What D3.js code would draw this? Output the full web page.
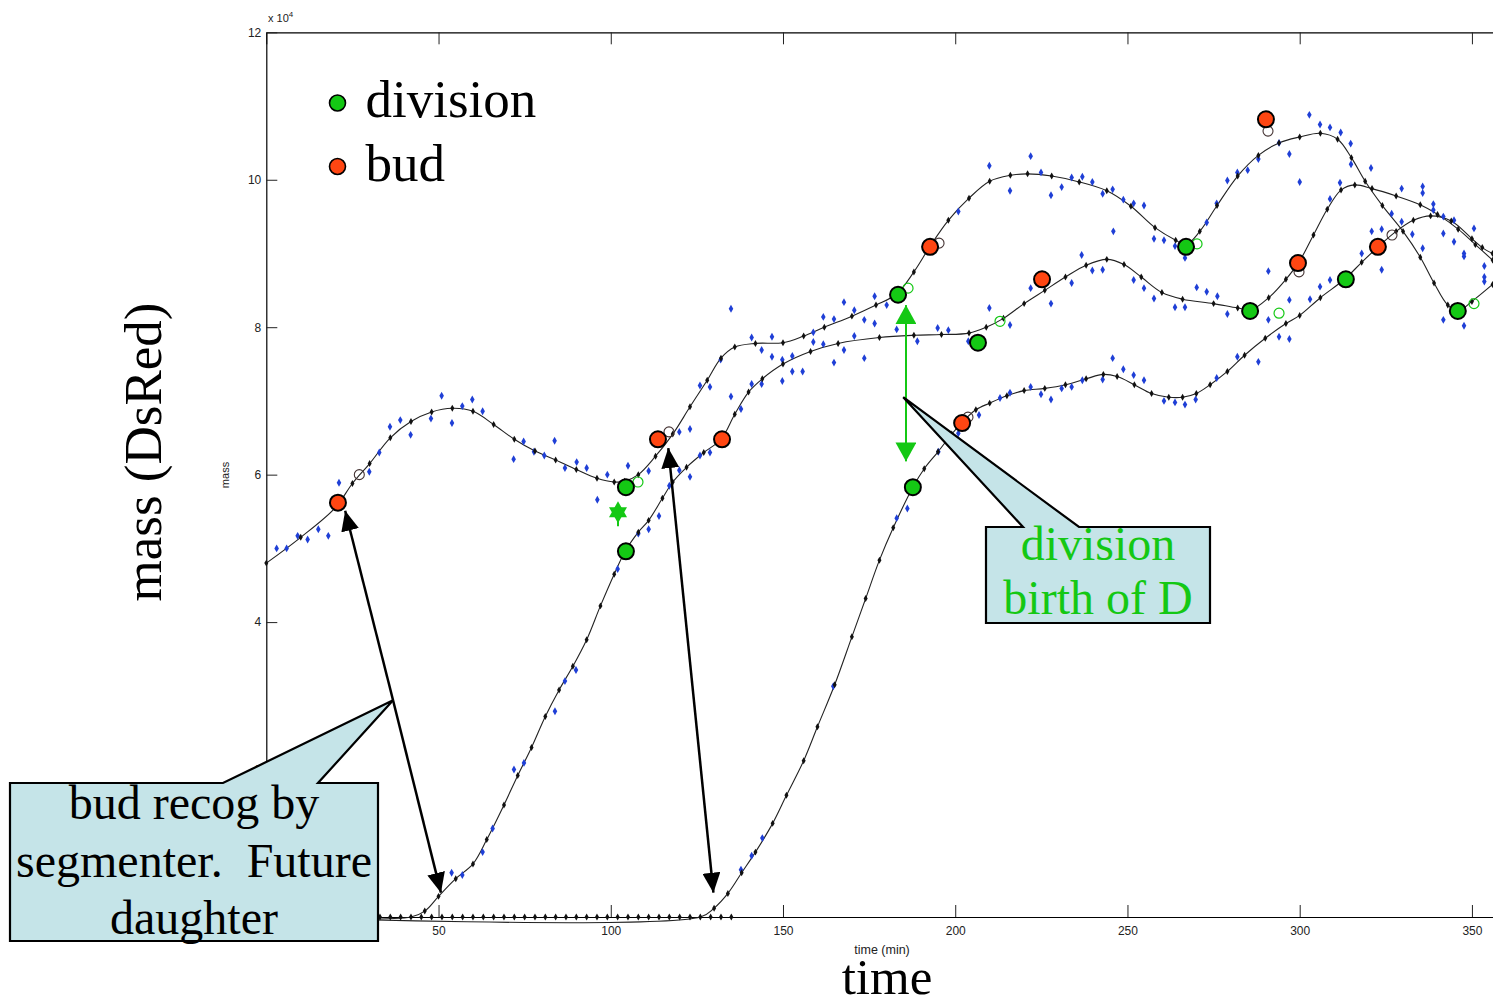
<!DOCTYPE html>
<html>
<head>
<meta charset="utf-8">
<script src="https://cdn.jsdelivr.net/npm/d3@7"></script>
<style>
    body { margin: 0; background: #fff; }
    svg { display: block; }
    .serif { font-family: "Liberation Serif", "Times New Roman", serif; }
    .sans { font-family: "Liberation Sans", Arial, sans-serif; }
</style>
</head>
<body>
<div id="chart"></div>
<script>
// ---- data (time in min, mass in units of 1e4) ----
const xTicks = [0, 50, 100, 150, 200, 250, 300, 350];
const yTicks = [0, 2, 4, 6, 8, 10, 12];

// smoothed curves, one per cell
const cellA = [[0,4.80],[10,5.15],[20,5.55],[25,5.88],[30,6.15],[36,6.50],[42,6.72],[48,6.85],[54,6.90],[60,6.86],
    [66,6.68],[72,6.48],[78,6.32],[84,6.20],[90,6.07],[96,5.95],[101,5.90],[104,5.91],[108,6.00],[113,6.25],[118,6.55],
    [123,6.92],[128,7.28],[132,7.58],[136,7.73],[142,7.78],[150,7.79],[156,7.88],[162,8.00],[170,8.15],[177,8.30],
    [183,8.45],[188,8.75],[193,9.12],[198,9.45],[204,9.75],[210,9.98],[216,10.06],[221,10.08],[228,10.05],[236,9.97],
    [244,9.85],[251,9.64],[258,9.35],[264,9.18],[267,9.12],[271,9.30],[276,9.65],[282,10.05],[288,10.33],[294,10.50],
    [300,10.58],[306,10.63],[311,10.55],[315,10.30],[319,9.98],[324,9.65],[330,9.30],[335,8.95],[339,8.60],[343,8.30],
    [346,8.22],[350,8.35],[356,8.58]];
const cellB = [[0,0],[42,0],[46,0.08],[50,0.28],[55,0.52],[60,0.72],[64,1.05],[69,1.52],[73,1.92],[77,2.30],[81,2.72],
    [85,3.08],[89,3.40],[93,3.76],[97,4.22],[101,4.65],[104.3,4.97],[108,5.22],[111,5.38],[115,5.68],[118,5.90],
    [122,6.10],[127,6.30],[132,6.48],[136,6.82],[140,7.12],[144,7.30],[150,7.50],[158,7.67],[166,7.78],[178,7.86],
    [188,7.89],[196,7.90],[204,7.92],[209,8.00],[214,8.12],[220,8.32],[226,8.50],[232,8.68],[238,8.84],[244,8.92],
    [249,8.85],[254,8.68],[260,8.47],[266,8.38],[275,8.32],[282,8.26],[286,8.24],[291,8.40],[296,8.65],[300,8.90],
    [304,9.25],[308,9.60],[312,9.86],[316,9.93],[321,9.88],[328,9.78],[335,9.66],[340,9.53],[346,9.33],[351,9.12],[356,8.91]];
const cellC = [[0,0],[126,0],[130,0.12],[134,0.32],[138,0.60],[142,0.88],[147,1.27],[151,1.65],[156,2.12],[160,2.58],
    [165,3.15],[170,3.80],[174,4.32],[178,4.84],[182,5.28],[187.7,5.83],[191,6.08],[195,6.31],[199,6.55],[202,6.71],
    [206,6.88],[210,6.97],[215,7.07],[220,7.14],[226,7.17],[232,7.22],[238,7.30],[243,7.36],[247,7.33],[252,7.22],
    [257,7.10],[262,7.05],[266,7.05],[270,7.10],[274,7.22],[279,7.40],[284,7.62],[290,7.85],[296,8.05],[300,8.16],
    [306,8.40],[313,8.65],[318,8.88],[323,9.10],[328,9.30],[333,9.45],[338,9.51],[344,9.44],[350,9.20],[353,9.08],[356,9.00]];

// raw measurements (blue)
const rawA = [[3,5.00],[5.9,5.00],[9.1,5.17],[12,5.12],[15.1,5.26],[18,5.17],[21.1,5.89],[29.9,6.04],[32.8,6.30],
    [35.9,6.65],[38.9,6.74],[41.9,6.54],[47.8,6.76],[50.9,7.07],[53.9,6.70],[56.9,6.93],[59.8,7.02],[62.8,6.86],
    [71.8,6.21],[74.7,6.45],[77.7,6.31],[80.7,6.26],[83.7,6.46],[86.7,6.09],[90.1,6.17],[93,6.09],[96.1,5.66],[99,6.00],
    [105,6.12],[111,6.05],[119.9,6.58],[123,6.62],[125.9,7.21],[128.8,7.19],[131.9,7.56],[134.9,8.25],[140.9,7.86],
    [143.8,7.69],[146.8,7.87],[146.8,7.60],[149.8,7.56],[152.7,7.61],[158.8,7.93],[161.7,8.14],[164.8,8.11],
    [167.7,8.34],[170.7,8.23],[173.6,8.10],[176.6,8.42],[180.1,8.30],[200.9,9.57],[209.9,10.19],[215.9,9.85],
    [221.9,10.32],[224.9,10.10],[227.8,9.79],[230.9,9.90],[233.8,10.03],[236.9,10.04],[239.8,9.97],[242.8,9.81],
    [245.7,9.87],[248.8,9.73],[251.8,9.68],[254.8,9.65],[245.9,9.30],[257.7,9.20],[260.6,9.18],[263.8,9.10],
    [266.7,8.94],[273,9.42],[275.9,9.68],[279,9.99],[281.9,10.10],[284.9,10.13],[288,10.28],[294,10.50],[297,10.35],
    [300,9.97],[302.8,10.88],[305.9,10.75],[308.8,10.71],[311.9,10.64],[314.8,10.49],[314.9,10.21],[320.7,10.16],
    [308.8,9.74],[311.7,9.96]];
const rawB = [[53.8,0.60],[56.9,0.57],[62.8,0.88],[65.7,1.20],[71.9,2.00],[74.8,2.09],[83.8,2.79],[86.7,3.20],
    [89.9,3.35],[102,4.72],[108,5.20],[111,5.26],[114,5.44],[117,5.85],[119.9,6.06],[123,5.97],[125.9,6.26],
    [128.8,6.30],[134.9,7.06],[137.8,6.89],[140.9,7.23],[143.8,7.23],[149.8,7.27],[152.7,7.40],[155.7,7.40],
    [158.8,7.80],[161.7,7.77],[164.8,7.52],[167.7,7.69],[170.7,7.88],[173.6,7.58],[176.6,8.05],[183,7.97],[189,7.81],
    [194.9,7.99],[198,7.96],[203.8,7.81],[209.9,8.26],[215.9,8.03],[221.9,8.53],[227.8,8.32],[233.8,8.60],
    [236.7,8.98],[239.8,8.77],[242.8,8.78],[251.8,8.64],[254.8,8.53],[257.7,8.39],[263.8,8.27],[266.7,8.27],
    [270.1,8.54],[273,8.48],[276.1,8.42],[279,8.18],[290.9,8.76],[290.9,8.10],[297,8.37],[303,8.38],[305.9,8.55],
    [308.8,8.64],[318,9.00],[320.9,9.30],[323.8,9.33],[323.8,8.78],[326.7,9.54],[329.6,9.88],[332.7,9.26],
    [335.7,9.91],[335.7,9.82],[338.8,9.67],[338.8,9.59],[341.7,9.50],[344.8,9.45],[350.6,9.34]];
const rawC = [[137.8,0.64],[140.9,0.83],[144,1.07],[164.6,3.13],[183,5.41],[186.1,5.54],[195.1,6.31],[200.9,6.56],
    [206.9,6.81],[213,7.04],[215.9,7.11],[221.9,7.19],[224.9,7.09],[227.8,7.02],[230.9,7.17],[233.8,7.19],
    [236.9,7.28],[242.8,7.29],[245.7,7.58],[248.8,7.43],[251.8,7.35],[254.8,7.28],[260.6,7.00],[263.8,6.98],
    [266.7,6.95],[269.8,7.02],[275.9,7.31],[281.9,7.60],[288,7.53],[294,7.87],[297,7.84],[329.6,9.43],[335.7,9.07],
    [341.7,9.27],[341.7,8.10],[344.8,9.16],[347.7,9.00],[347.7,8.96],[347.7,8.02],[353.6,8.83],[353.6,8.68],[353.6,8.62]];

// both daughters sit at zero before they are recognised
const baselineTimes = [30,33,36,39,42,45,48,51,54,57,60,63,66,69,72,75,78,81,84,87,90,93,96,99,102,105,108,111,
    114,117,120,123,126,129,132,135];

// events
const divisions = [[104.4,5.83],[104.4,4.96],[183.4,8.44],[187.7,5.83],[206.6,7.79],[267,9.09],[285.6,8.22],
    [313.4,8.65],[345.9,8.22]];
const buds = [[20.8,5.62],[113.7,6.48],[132.3,6.48],[192.7,9.09],[202,6.70],[225.2,8.65],[290.2,10.82],
    [299.5,8.87],[322.7,9.09]];
const budsOpen = [[27,6.00],[116.9,6.58],[195.3,9.14],[203.7,6.78],[290.8,10.66],[299.8,8.75],[326.8,9.25]];
const divisionsOpen = [[107.9,5.90],[186.3,8.53],[213,8.08],[270.2,9.13],[294,8.19],[350.6,8.32]];
const starPoint = [102.1, 5.49];

// annotation anchors
const budCalloutTip = [36.8, 2.94];
const birthCalloutTip = [184.9, 7.05];
const budArrowTips = [[22.9, 5.51], [50.7, 0.33]];
const secondBudArrow = [[129.8, 0.33], [116.7, 6.36]];
const divisionArrow = [[185.7, 6.18], [185.7, 8.30]];

// ---- chart ----
const W = 1493, H = 1004;
const GREEN = '#14c814', RED = '#ff4612', BLUE = '#1f3fd6', BOX = '#c5e4e8';

const svg = d3.select('#chart').append('svg')
    .attr('width', W)
    .attr('height', H);

const x = d3.scaleLinear().domain([0, 356]).range([266.3, 1492.6]);
const y = d3.scaleLinear().domain([0, 12]).range([917, 32.3]);

// arrow heads
const defs = svg.append('defs');
function head(id, color, len, wid) {
    defs.append('marker')
        .attr('id', id)
        .attr('markerUnits', 'userSpaceOnUse')
        .attr('viewBox', `0 0 ${len} ${wid}`)
        .attr('markerWidth', len)
        .attr('markerHeight', wid)
        .attr('refX', len)
        .attr('refY', wid / 2)
        .attr('orient', 'auto-start-reverse')
        .append('path')
        .attr('d', `M0,0L${len},${wid / 2}L0,${wid}Z`)
        .attr('fill', color);
}
head('headBlack', '#000', 20, 18);
head('headGreen', GREEN, 19, 21);

// axes (the 0 labels sit under the callout box, so leave them blank)
const noZero = d => d === 0 ? '' : d;
const xAxisG = svg.append('g')
    .attr('transform', `translate(0,${y(0)})`)
    .call(d3.axisBottom(x).tickValues(xTicks).tickSize(-12).tickSizeOuter(0).tickPadding(9).tickFormat(noZero));
const topAxisG = svg.append('g')
    .attr('transform', `translate(0,${y(12)})`)
    .call(d3.axisTop(x).tickValues(xTicks).tickSize(-12).tickSizeOuter(0).tickFormat(''));
const yAxisG = svg.append('g')
    .attr('transform', `translate(${x(0)},0)`)
    .call(d3.axisLeft(y).tickValues(yTicks).tickSize(-11).tickSizeOuter(0).tickPadding(5).tickFormat(noZero));

[xAxisG, topAxisG, yAxisG].forEach(g => {
    g.select('.domain').attr('stroke', '#000').attr('stroke-width', 1.2);
    g.selectAll('.tick line').attr('stroke', '#222');
    g.selectAll('.tick text')
        .attr('class', 'sans')
        .attr('font-size', 12)
        .attr('fill', '#222');
});

svg.append('text')
    .attr('class', 'sans')
    .attr('x', 268).attr('y', 22)
    .attr('font-size', 11).attr('fill', '#222')
    .text('x 10')
    .append('tspan').attr('dy', -5).attr('font-size', 8).text('4');

svg.append('text')
    .attr('class', 'sans')
    .attr('x', 882).attr('y', 954)
    .attr('text-anchor', 'middle')
    .attr('font-size', 12.5).attr('fill', '#222')
    .text('time (min)');

svg.append('text')
    .attr('class', 'sans')
    .attr('transform', 'translate(229,475) rotate(-90)')
    .attr('text-anchor', 'middle')
    .attr('font-size', 11).attr('fill', '#222')
    .text('mass');

// big slide labels
svg.append('text')
    .attr('class', 'serif')
    .attr('transform', 'translate(161,452) rotate(-90)')
    .attr('text-anchor', 'middle')
    .attr('font-size', 53)
    .text('mass (DsRed)');

svg.append('text')
    .attr('class', 'serif')
    .attr('x', 887).attr('y', 994)
    .attr('text-anchor', 'middle')
    .attr('font-size', 51)
    .text('time');

// smoothed lines
const line = d3.line()
    .x(d => x(d[0]))
    .y(d => y(d[1]))
    .curve(d3.curveCatmullRom.alpha(0.5));

const cells = [cellA, cellB, cellC];
svg.append('g').selectAll('path')
    .data(cells)
    .join('path')
    .attr('d', line)
    .attr('fill', 'none')
    .attr('stroke', '#222')
    .attr('stroke-width', 1.1);

// raw points
const diamond = d3.symbol().type(d3.symbolDiamond);
svg.append('g').selectAll('path')
    .data(rawA.concat(rawB, rawC))
    .join('path')
    .attr('transform', d => `translate(${x(d[0])},${y(d[1])})`)
    .attr('d', diamond.size(18)())
    .attr('fill', BLUE);

// smoothed samples
const samples = cells.flatMap(c => c.filter(d => d[1] > 0))
    .concat(baselineTimes.map(t => [t, 0]));
svg.append('g').selectAll('path')
    .data(samples)
    .join('path')
    .attr('transform', d => `translate(${x(d[0])},${y(d[1])})`)
    .attr('d', diamond.size(14)())
    .attr('fill', '#111');

// open circles
svg.append('g').selectAll('circle')
    .data(budsOpen)
    .join('circle')
    .attr('cx', d => x(d[0])).attr('cy', d => y(d[1]))
    .attr('r', 5)
    .attr('fill', 'none')
    .attr('stroke', '#443333')
    .attr('stroke-width', 1.1);
svg.append('g').selectAll('circle')
    .data(divisionsOpen)
    .join('circle')
    .attr('cx', d => x(d[0])).attr('cy', d => y(d[1]))
    .attr('r', 5)
    .attr('fill', 'none')
    .attr('stroke', GREEN)
    .attr('stroke-width', 1.2);

// event markers
function events(data, color) {
    svg.append('g').selectAll('circle')
        .data(data)
        .join('circle')
        .attr('cx', d => x(d[0])).attr('cy', d => y(d[1]))
        .attr('r', 8)
        .attr('fill', color)
        .attr('stroke', '#000')
        .attr('stroke-width', 2);
}
events(divisions, GREEN);
events(buds, RED);

// green six-point star with a short stem
const sx = x(starPoint[0]), sy = y(starPoint[1]);
const star = svg.append('g').attr('fill', GREEN);
star.append('path').attr('d', `M${sx},${sy - 11}L${sx + 9},${sy + 5}L${sx - 9},${sy + 5}Z`);
star.append('path').attr('d', `M${sx},${sy + 11}L${sx + 9},${sy - 5}L${sx - 9},${sy - 5}Z`);
star.append('rect').attr('x', sx - 1).attr('y', sy).attr('width', 2).attr('height', 14);

// arrows
function arrow(a, b, color, w, id, both) {
    svg.append('line')
        .attr('x1', x(a[0])).attr('y1', y(a[1]))
        .attr('x2', x(b[0])).attr('y2', y(b[1]))
        .attr('stroke', color)
        .attr('stroke-width', w)
        .attr('marker-end', `url(#${id})`)
        .attr('marker-start', both ? `url(#${id})` : null);
}
budArrowTips.forEach(t => arrow(budCalloutTip, t, '#000', 2.5, 'headBlack', false));
arrow(secondBudArrow[0], secondBudArrow[1], '#000', 2.5, 'headBlack', true);
arrow(divisionArrow[0], divisionArrow[1], GREEN, 2, 'headGreen', true);

// callouts
function callout(box, baseL, baseR, tip) {
    const [x0, y0, x1, y1] = box;
    const tx = x(tip[0]), ty = y(tip[1]);
    svg.append('path')
        .attr('d', `M${x0},${y0}L${baseL},${y0}L${tx},${ty}L${baseR},${y0}L${x1},${y0}L${x1},${y1}L${x0},${y1}Z`)
        .attr('fill', BOX)
        .attr('stroke', '#000')
        .attr('stroke-width', 2.2)
        .attr('stroke-linejoin', 'miter');
}
callout([10, 783, 378, 941], 223, 318, budCalloutTip);
callout([986, 527, 1210, 623], 1023, 1079, birthCalloutTip);

function lines(textLines, cx, baselines, color) {
    svg.append('g').selectAll('text')
        .data(textLines)
        .join('text')
        .attr('class', 'serif')
        .attr('x', cx)
        .attr('y', (d, i) => baselines[i])
        .attr('text-anchor', 'middle')
        .attr('font-size', 48)
        .attr('fill', color)
        .style('white-space', 'pre')
        .text(d => d);
}
lines(['bud recog by', 'segmenter.  Future', 'daughter'], 194, [819, 877, 934], '#000');
lines(['division', 'birth of D'], 1098, [560, 614], GREEN);

// legend
const legend = svg.append('g').attr('transform', 'translate(337.5,103)');
const legendItems = [['division', GREEN], ['bud', RED]];
legendItems.forEach((d, i) => {
    const g = legend.append('g').attr('transform', `translate(0,${i * 63.5})`);
    g.append('circle')
        .attr('r', 8)
        .attr('fill', d[1])
        .attr('stroke', '#000')
        .attr('stroke-width', 1.6);
    g.append('text')
        .attr('class', 'serif')
        .attr('x', 28).attr('y', 14)
        .attr('font-size', 53)
        .text(d[0]);
});
</script>
</body>
</html>
